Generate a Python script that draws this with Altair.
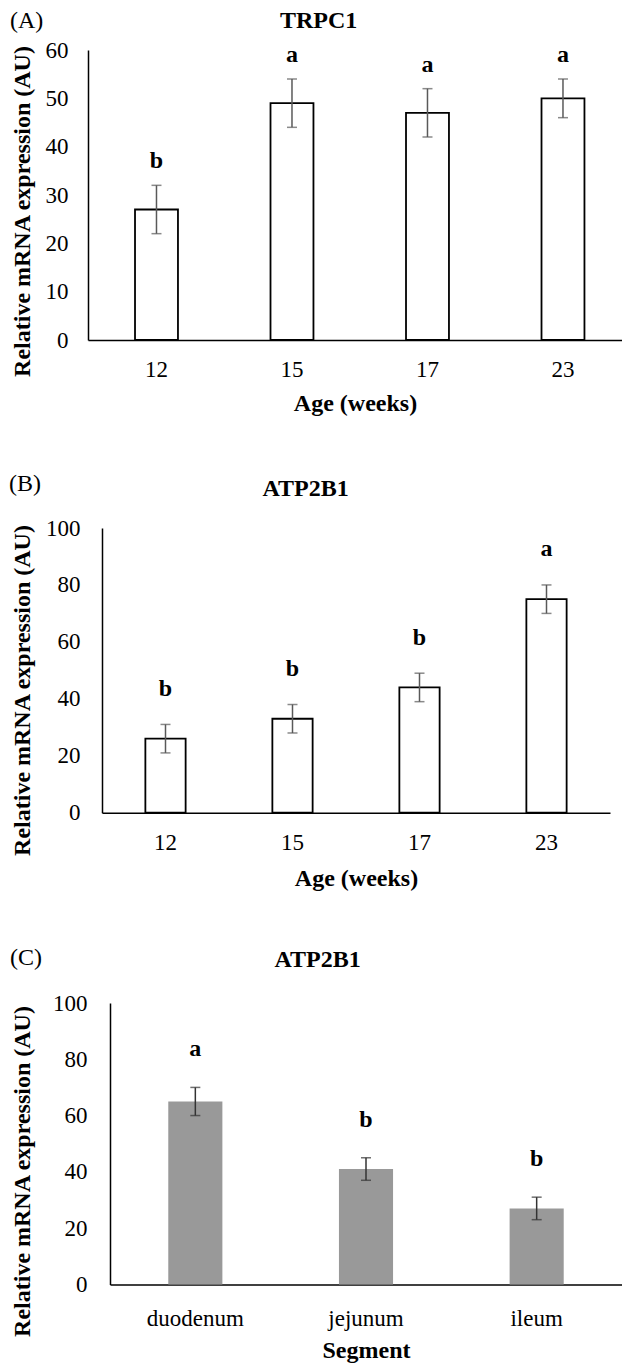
import altair as alt
import pandas as pd

FONT = "Liberation Serif"

# Panel A: TRPC1 by age
ages = ["12", "15", "17", "23"]
trpc1_mean = [27, 49, 47, 50]
trpc1_err = [5, 5, 5, 4]
trpc1_letter = ["b", "a", "a", "a"]

# Panel B: ATP2B1 by age
atp_age_mean = [26, 33, 44, 75]
atp_age_err = [5, 5, 5, 5]
atp_age_letter = ["b", "b", "b", "a"]

# Panel C: ATP2B1 by intestinal segment
segments = ["duodenum", "jejunum", "ileum"]
atp_seg_mean = [65, 41, 27]
atp_seg_err = [5, 4, 4]
atp_seg_letter = ["a", "b", "b"]

YTITLE = "Relative mRNA expression (AU)"


def panel(cats, means, errs, letters, xtitle, ymax, ystep, w, h, fill, stroke,
          errcolor, letter_off, tag, gene, tag_xy, gene_xy, ytitle_xy,
          xtitle_y, xlabel_pad, ylabel_pad, pad_outer=0.3415, band_align=0.5):
    df = pd.DataFrame({"cat": cats, "mean": means, "err": errs, "letter": letters})
    base = alt.Chart(df).transform_calculate(
        lo="datum.mean - datum.err",
        hi="datum.mean + datum.err",
        ly=f"datum.mean + datum.err + {letter_off}",
    )
    x = alt.X(
        "cat:N", sort=cats, title=xtitle,
        scale=alt.Scale(paddingInner=0.683, paddingOuter=pad_outer, align=band_align),
        axis=alt.Axis(
            labelAngle=0, labelPadding=xlabel_pad, labelBaseline="middle",
            labelFont=FONT, labelFontSize=23, labelColor="black",
            titleFont=FONT, titleFontSize=24, titleFontWeight="bold",
            titleColor="black", titleY=xtitle_y, titleBaseline="middle",
            ticks=False, tickSize=0, domainColor="black", domainWidth=1.5,
            grid=False,
        ),
    )
    ysc = alt.Scale(domain=[0, ymax], nice=False, zero=True)
    yaxis = alt.Axis(
        values=list(range(0, ymax + 1, ystep)), labelPadding=ylabel_pad,
        labelFont=FONT, labelFontSize=23, labelColor="black",
        titleFont=FONT, titleFontSize=24, titleFontWeight="bold",
        titleColor="black", titleX=ytitle_xy[0], titleY=ytitle_xy[1],
        titleBaseline="middle", ticks=False, tickSize=0,
        domainColor="black", domainWidth=1.5, grid=False,
    )

    def Y(field):
        return alt.Y(field, scale=ysc, title=YTITLE, axis=yaxis)

    bar_kw = dict(fill=fill)
    if stroke:
        bar_kw.update(stroke=stroke, strokeWidth=1.8)
    bars = base.mark_bar(**bar_kw).encode(x=x, y=Y("mean:Q"))
    rule = base.mark_rule(color=errcolor, strokeWidth=1.5).encode(
        x=x, y=Y("lo:Q"), y2="hi:Q")
    cap_lo = base.mark_tick(color=errcolor, size=10, thickness=1.5).encode(
        x=x, y=Y("lo:Q"))
    cap_hi = base.mark_tick(color=errcolor, size=10, thickness=1.5).encode(
        x=x, y=Y("hi:Q"))
    letter_t = base.mark_text(font=FONT, fontSize=24, fontWeight="bold",
                              baseline="middle", color="black").encode(
        x=x, y=Y("ly:Q"), text="letter:N")
    tag_t = alt.Chart(pd.DataFrame({"t": [tag]})).mark_text(
        align="left", baseline="middle", font=FONT, fontSize=24,
        color="black").encode(
        x=alt.value(tag_xy[0]), y=alt.value(tag_xy[1]), text="t:N")
    gene_t = alt.Chart(pd.DataFrame({"t": [gene]})).mark_text(
        align="center", baseline="middle", font=FONT, fontSize=24,
        fontWeight="bold", color="black").encode(
        x=alt.value(gene_xy[0]), y=alt.value(gene_xy[1]), text="t:N")
    layered = alt.layer(bars, rule, cap_lo, cap_hi, letter_t, tag_t, gene_t).properties(
        width=w, height=h)
    # a 1px invisible spacer in column 0 makes the panel's left edge (not its
    # plot area) the alignment reference, so each panel keeps its own axis offset
    spacer = alt.Chart(pd.DataFrame({"s": [0]})).mark_rect(opacity=0).encode(
        x=alt.value(0), x2=alt.value(1), y=alt.value(0), y2=alt.value(1)
    ).properties(width=1, height=1)
    return alt.hconcat(spacer, layered, spacing=0)


pa = panel(ages, trpc1_mean, trpc1_err, trpc1_letter, "Age (weeks)", 60, 10,
           534, 290, "white", "black", "#595959", 5, "(A)", "TRPC1",
           (-78, -29.3), (230.7, -29.3), (-66, 161), 63.7, 29.4, 20,
           pad_outer=0.312, band_align=0.556)
pb = panel(ages, atp_age_mean, atp_age_err, atp_age_letter, "Age (weeks)", 100, 20,
           508, 284.7, "white", "black", "#595959", 12.5, "(B)", "ATP2B1",
           (-93, -44.3), (203.6, -39.3), (-80, 162), 66, 30.2, 22)
pc = panel(segments, atp_seg_mean, atp_seg_err, atp_seg_letter, "Segment", 100, 20,
           512, 281.4, "#999999", None, "#333333", 13.5, "(C)", "ATP2B1",
           (-100, -45), (207.6, -43), (-88, 168), 66.3, 34.4, 23)

chart = alt.vconcat(pa, pb, pc, spacing=55).properties(
    padding=0, background="white"
).configure_view(stroke=None)

chart.save("out.html", embed_options={"renderer": "svg", "actions": False})
